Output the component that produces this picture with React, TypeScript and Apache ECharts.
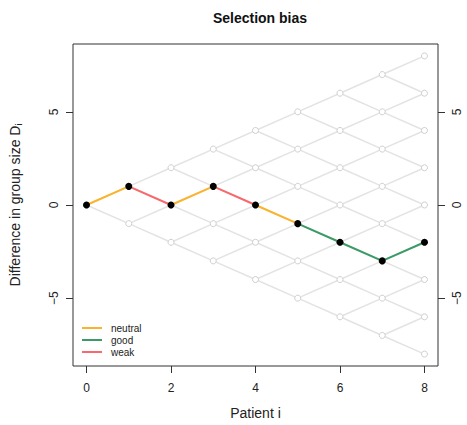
import React, { useEffect, useRef } from "react";
import * as echarts from "echarts";

const steps = [0, 1, 2, 3, 4, 5, 6, 7, 8];
const pathValues = [0, 1, 0, 1, 0, -1, -2, -3, -2];
const segmentTypes = ["neutral", "weak", "neutral", "weak", "neutral", "good", "good", "good"];
const typeNames = ["neutral", "good", "weak"];
const typeColors: Record<string, string> = { neutral: "#FBB32E", good: "#3C9A66", weak: "#F8686C" };
const xTicks = [0, 2, 4, 6, 8];
const yTicks = [-5, 0, 5];

const FONT = "'Liberation Sans', Arial, Helvetica, sans-serif";

export default function App() {
  const ref = useRef<HTMLDivElement>(null);
  useEffect(() => {
    document.body.style.margin = "0";
    const chart = echarts.init(ref.current!, null, { renderer: "svg" });

    // lattice of all possible walks
    const latticeLines: any[] = [];
    const latticeNodes: any[] = [];
    for (const i of steps) {
      for (let d = -i; d <= i; d += 2) {
        latticeNodes.push([i, d]);
        if (i < steps[steps.length - 1]) {
          latticeLines.push({ coords: [[i, d], [i + 1, d + 1]] });
          latticeLines.push({ coords: [[i, d], [i + 1, d - 1]] });
        }
      }
    }

    const pathSeries = typeNames.map((t) => ({
      name: t,
      type: "lines",
      coordinateSystem: "cartesian2d",
      z: 3,
      lineStyle: { color: typeColors[t], width: 2, opacity: 1 },
      itemStyle: { color: typeColors[t] },
      data: segmentTypes
        .map((s, k) => (s === t ? { coords: [[steps[k], pathValues[k]], [steps[k + 1], pathValues[k + 1]]] } : null))
        .filter((v) => v !== null),
    }));

    const yAxisBase = {
      type: "value",
      min: -8.64,
      max: 8.64,
      splitLine: { show: false },
      axisLine: { show: false, onZero: false },
      axisTick: { show: true, length: 7, customValues: yTicks, lineStyle: { color: "#333" } },
      axisLabel: {
        customValues: yTicks,
        rotate: 90,
        color: "#222",
        fontSize: 12,
        fontFamily: FONT,
        margin: 13,
        formatter: (v: number) => String(v).replace("-", "\u2212"),
      },
    };

    chart.setOption({
      animation: false,
      backgroundColor: "#fff",
      title: {
        text: "Selection bias",
        left: 255,
        textAlign: "center",
        top: 6,
        textStyle: { fontSize: 14, fontWeight: "bold", color: "#111", fontFamily: FONT },
      },
      grid: { left: 73, right: 29, top: 44, bottom: 59, show: true, borderColor: "#333", borderWidth: 1 },
      legend: {
        orient: "vertical",
        left: 77,
        top: 317,
        icon: "rect",
        itemWidth: 20,
        itemHeight: 2,
        itemGap: 0,
        itemStyle: { borderWidth: 0 },
        lineStyle: { width: 0 },
        data: typeNames,
        textStyle: { fontSize: 10, color: "#222", fontFamily: FONT, lineHeight: 12, padding: [0, 0, 0, 4] },
      },
      xAxis: {
        type: "value",
        min: -0.32,
        max: 8.32,
        splitLine: { show: false },
        axisLine: { show: false, onZero: false },
        axisTick: { show: true, length: 7, customValues: xTicks, lineStyle: { color: "#333" } },
        axisLabel: { customValues: xTicks, color: "#222", fontSize: 12, fontFamily: FONT, margin: 16 },
        name: "Patient i",
        nameLocation: "middle",
        nameGap: 40,
        nameTextStyle: { fontSize: 14, color: "#222", fontFamily: FONT },
      },
      yAxis: [
        { ...yAxisBase, position: "left" },
        { ...yAxisBase, position: "right" },
      ],
      graphic: [
        {
          type: "text",
          x: 15,
          y: 205,
          rotation: Math.PI / 2,
          style: {
            text: "Difference in group size D{sub|i}",
            fontSize: 14,
            fontFamily: FONT,
            fill: "#222",
            align: "center",
            verticalAlign: "middle",
            rich: { sub: { fontSize: 9, fontFamily: FONT, fill: "#222", padding: [8, 0, 0, 0] } },
          },
        },
      ],
      series: [
        {
          type: "lines",
          coordinateSystem: "cartesian2d",
          silent: true,
          z: 1,
          lineStyle: { color: "#e3e3e3", width: 1.5, opacity: 1 },
          data: latticeLines,
        },
        {
          type: "scatter",
          silent: true,
          z: 2,
          symbol: "circle",
          symbolSize: 6,
          itemStyle: { color: "#fff", borderColor: "#cfcfcf", borderWidth: 1, opacity: 1 },
          data: latticeNodes,
        },
        ...pathSeries,
        {
          type: "scatter",
          z: 4,
          symbol: "circle",
          symbolSize: 7,
          itemStyle: { color: "#000", opacity: 1 },
          data: steps.map((s, k) => [s, pathValues[k]]),
        },
      ],
    });
    return () => chart.dispose();
  }, []);
  return <div ref={ref} style={{ position: "fixed", left: 0, top: 0, width: 467, height: 425 }} />;
}
